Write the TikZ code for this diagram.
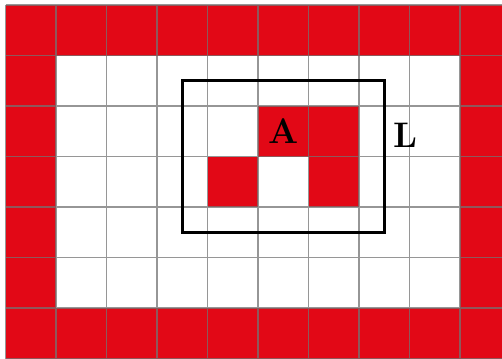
\documentclass[tikz,border=0pt]{standalone}
\definecolor{cellred}{RGB}{226,8,22}
\tikzset{
  redcell/.style={fill=cellred},
  gridline/.style={draw=black!55, opacity=0.75, line width=0.8pt},
  lbl/.style={font=\fontsize{20}{24}\selectfont\bfseries}
}
\begin{document}
\begin{tikzpicture}[x=1cm,y=1cm]
\useasboundingbox (-0.11,0) rectangle (9.83,7.1);
% outer ring of red cells
\foreach \c in {0,...,9} {
  \path[redcell] (\c,0) rectangle ++(1,1);
  \path[redcell] (\c,6) rectangle ++(1,1);
}
\foreach \r in {1,...,5} {
  \path[redcell] (0,\r) rectangle ++(1,1);
  \path[redcell] (9,\r) rectangle ++(1,1);
}
% inner red cells
\foreach \c/\r in {5/4,6/4,4/3,6/3} {
  \path[redcell] (\c,\r) rectangle ++(1,1);
}
\draw[gridline] (0,0) grid (10,7);
% window L
\draw[line width=1.7pt] (3.5,2.5) rectangle (7.5,5.5);
\node[lbl] (A) at (5.5,4.5) {A};
\node[lbl] (L) at (7.91,4.43) {L};
\end{tikzpicture}
\end{document}
